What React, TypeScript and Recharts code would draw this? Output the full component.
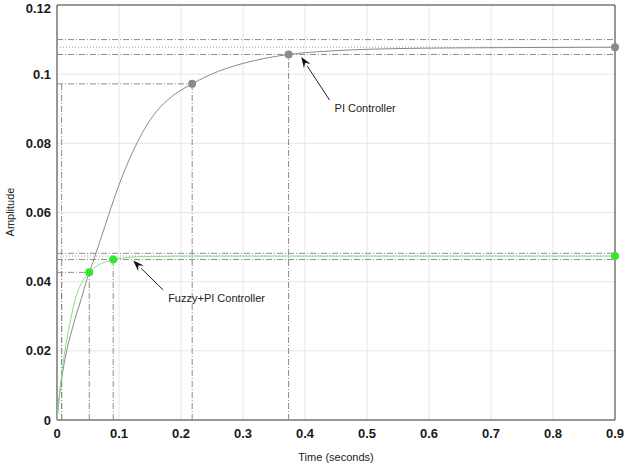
import { ComposedChart, Line, XAxis, YAxis, CartesianGrid, ReferenceLine, ReferenceDot, ReferenceArea } from "recharts"

const piTime = [0, 0.004, 0.008, 0.015, 0.024, 0.032, 0.04, 0.048, 0.061, 0.077, 0.099, 0.126, 0.158, 0.185, 0.218, 0.26, 0.3, 0.3735, 0.45, 0.55, 0.65, 0.75, 0.9]
const piAmp = [0, 0.007, 0.0125, 0.0195, 0.026, 0.031, 0.0355, 0.0405, 0.0472, 0.0559, 0.0675, 0.079, 0.0887, 0.0935, 0.0972, 0.1008, 0.1031, 0.1057, 0.1068, 0.1074, 0.1076, 0.1077, 0.1078]

const fuzzyTime = [0, 0.004, 0.008, 0.0156, 0.022, 0.029, 0.04, 0.052, 0.0665, 0.08, 0.0907, 0.11, 0.13, 0.16, 0.2, 0.3, 0.5, 0.7, 0.9]
const fuzzyAmp = [0, 0.0075, 0.0138, 0.0231, 0.029, 0.0347, 0.0397, 0.0427, 0.0448, 0.0458, 0.0464, 0.0469, 0.0472, 0.0473, 0.0474, 0.0474, 0.0474, 0.0474, 0.0474]

const xTicks = [0, 0.1, 0.2, 0.3, 0.4, 0.5, 0.6, 0.7, 0.8, 0.9]
const yTicks = [0, 0.02, 0.04, 0.06, 0.08, 0.1, 0.12]

// step-response characteristics: [time, amplitude]
const piFinal = 0.1078
const piBand = [0.11, 0.1057]
const piRiseLow = 0.0075
const piRise = [0.218, 0.0972]
const piSettle = [0.3735, 0.1057]

const fuzzyFinal = 0.0474
const fuzzyBand = [0.0482, 0.0464]
const fuzzyRiseLow = 0.0075
const fuzzyRise = [0.052, 0.0427]
const fuzzySettle = [0.0907, 0.0464]

// arrows: tail [t, y], tip [t, y]
const piArrow = [[0.4396, 0.0925], [0.394, 0.105]]
const fuzzyArrow = [[0.1712, 0.0376], [0.1229, 0.0461]]

const piData = piTime.map((t, i) => ({ t, y: piAmp[i] }))
const fuzzyData = fuzzyTime.map((t, i) => ({ t, y: fuzzyAmp[i] }))

const dashDot = "6 2 1 2"
const refColor = "#8c8c8c"
const piColor = "#8a8a8a"
const fuzzyColor = "#84e084"
const fuzzyDot = "#2ee82e"

function arrowShape(text: string) {
  return (p: any) => {
    const { x1, y1, x2, y2 } = p
    const ang = Math.atan2(y2 - y1, x2 - x1)
    const len = 11
    const w = 4
    const bx = x2 - len * Math.cos(ang)
    const by = y2 - len * Math.sin(ang)
    const nx = -Math.sin(ang) * w
    const ny = Math.cos(ang) * w
    return (
      <g>
        <line x1={x1} y1={y1} x2={bx} y2={by} stroke="#222" strokeWidth={1} />
        <polygon points={`${x2},${y2} ${bx + nx},${by + ny} ${bx + 0.35 * len * Math.cos(ang)},${by + 0.35 * len * Math.sin(ang)} ${bx - nx},${by - ny}`} fill="#111" />
        <text x={x1 + 5} y={y1 + 12} fontSize={11} fill="#222" fontFamily="Liberation Sans, Arial, sans-serif">{text}</text>
      </g>
    )
  }
}

export default function App() {
  return (
    <div style={{ position: "absolute", left: 0, top: 0, background: "#fff" }}>
      <ComposedChart width={625} height={465} margin={{ top: 5, right: 10, left: 0, bottom: 0 }}>
        <CartesianGrid stroke="#e6e6e6" strokeWidth={1} />
        <XAxis
          type="number"
          dataKey="t"
          domain={[0, 0.9]}
          ticks={xTicks}
          height={45}
          tickLine={false}
          tickSize={0}
          tickMargin={9}
          axisLine={false}
          tick={{ fontSize: 13, fontWeight: "bold", fill: "#1a1a1a", fontFamily: "Liberation Sans, Arial, sans-serif" }}
          label={{ value: "Time (seconds)", position: "insideBottom", offset: 4, style: { fontSize: 11, fill: "#222", fontFamily: "Liberation Sans, Arial, sans-serif" } }}
        />
        <YAxis
          type="number"
          domain={[0, 0.12]}
          ticks={yTicks}
          width={57}
          tickLine={false}
          tickSize={0}
          tickMargin={6}
          axisLine={false}
          tick={{ fontSize: 13, fontWeight: "bold", fill: "#1a1a1a", fontFamily: "Liberation Sans, Arial, sans-serif" }}
          label={{
            content: () => (
              <text x={14} y={212} transform="rotate(-90 14 212)" textAnchor="middle" fontSize={11} fill="#222" fontFamily="Liberation Sans, Arial, sans-serif">
                Amplitude
              </text>
            ),
          }}
        />

        <ReferenceLine y={piBand[0]} stroke={refColor} strokeDasharray={dashDot} />
        <ReferenceLine y={piBand[1]} stroke={refColor} strokeDasharray={dashDot} />
        <ReferenceLine y={piFinal} stroke="#a0a0a0" strokeDasharray="1 2" />
        <ReferenceLine segment={[{ x: 0, y: piRise[1] }, { x: piRise[0], y: piRise[1] }]} stroke={refColor} strokeDasharray={dashDot} />
        <ReferenceLine segment={[{ x: piRise[0], y: 0 }, { x: piRise[0], y: piRise[1] }]} stroke={refColor} strokeDasharray={dashDot} />
        <ReferenceLine segment={[{ x: piRiseLow, y: 0 }, { x: piRiseLow, y: piRise[1] }]} stroke={refColor} strokeDasharray={dashDot} />
        <ReferenceLine segment={[{ x: piSettle[0], y: 0 }, { x: piSettle[0], y: piSettle[1] }]} stroke={refColor} strokeDasharray={dashDot} />

        <ReferenceLine y={fuzzyBand[0]} stroke={refColor} strokeDasharray={dashDot} />
        <ReferenceLine y={fuzzyBand[1]} stroke={refColor} strokeDasharray={dashDot} />
        <ReferenceLine y={fuzzyFinal} stroke="#a0a0a0" strokeDasharray="1 2" />
        <ReferenceLine segment={[{ x: 0, y: fuzzyRise[1] }, { x: fuzzyRise[0], y: fuzzyRise[1] }]} stroke={refColor} strokeDasharray={dashDot} />
        <ReferenceLine segment={[{ x: fuzzyRise[0], y: 0 }, { x: fuzzyRise[0], y: fuzzyRise[1] }]} stroke={refColor} strokeDasharray={dashDot} />
        <ReferenceLine segment={[{ x: fuzzyRiseLow, y: 0 }, { x: fuzzyRiseLow, y: fuzzyRise[1] }]} stroke={refColor} strokeDasharray={dashDot} />
        <ReferenceLine segment={[{ x: fuzzySettle[0], y: 0 }, { x: fuzzySettle[0], y: fuzzySettle[1] }]} stroke={refColor} strokeDasharray={dashDot} />

        <Line data={piData} dataKey="y" type="monotone" stroke={piColor} strokeWidth={1} dot={false} activeDot={false} isAnimationActive={false} />
        <Line data={fuzzyData} dataKey="y" type="monotone" stroke={fuzzyColor} strokeWidth={1} dot={false} activeDot={false} isAnimationActive={false} />

        <ReferenceArea x1={0} x2={0.9} y1={0} y2={0.12} fill="none" stroke="#3c3c3c" strokeWidth={1} />

        <ReferenceDot x={piRise[0]} y={piRise[1]} r={4} fill={piColor} stroke="none" />
        <ReferenceDot x={piSettle[0]} y={piSettle[1]} r={4} fill={piColor} stroke="none" />
        <ReferenceDot x={0.9} y={piFinal} r={4} fill={piColor} stroke="none" ifOverflow="visible" />
        <ReferenceDot x={fuzzyRise[0]} y={fuzzyRise[1]} r={4} fill={fuzzyDot} stroke="none" />
        <ReferenceDot x={fuzzySettle[0]} y={fuzzySettle[1]} r={4} fill={fuzzyDot} stroke="none" />
        <ReferenceDot x={0.9} y={fuzzyFinal} r={4} fill={fuzzyDot} stroke="none" ifOverflow="visible" />

        <ReferenceLine segment={[{ x: piArrow[0][0], y: piArrow[0][1] }, { x: piArrow[1][0], y: piArrow[1][1] }]} shape={arrowShape("PI Controller")} />
        <ReferenceLine segment={[{ x: fuzzyArrow[0][0], y: fuzzyArrow[0][1] }, { x: fuzzyArrow[1][0], y: fuzzyArrow[1][1] }]} shape={arrowShape("Fuzzy+PI Controller")} />
      </ComposedChart>
    </div>
  )
}
